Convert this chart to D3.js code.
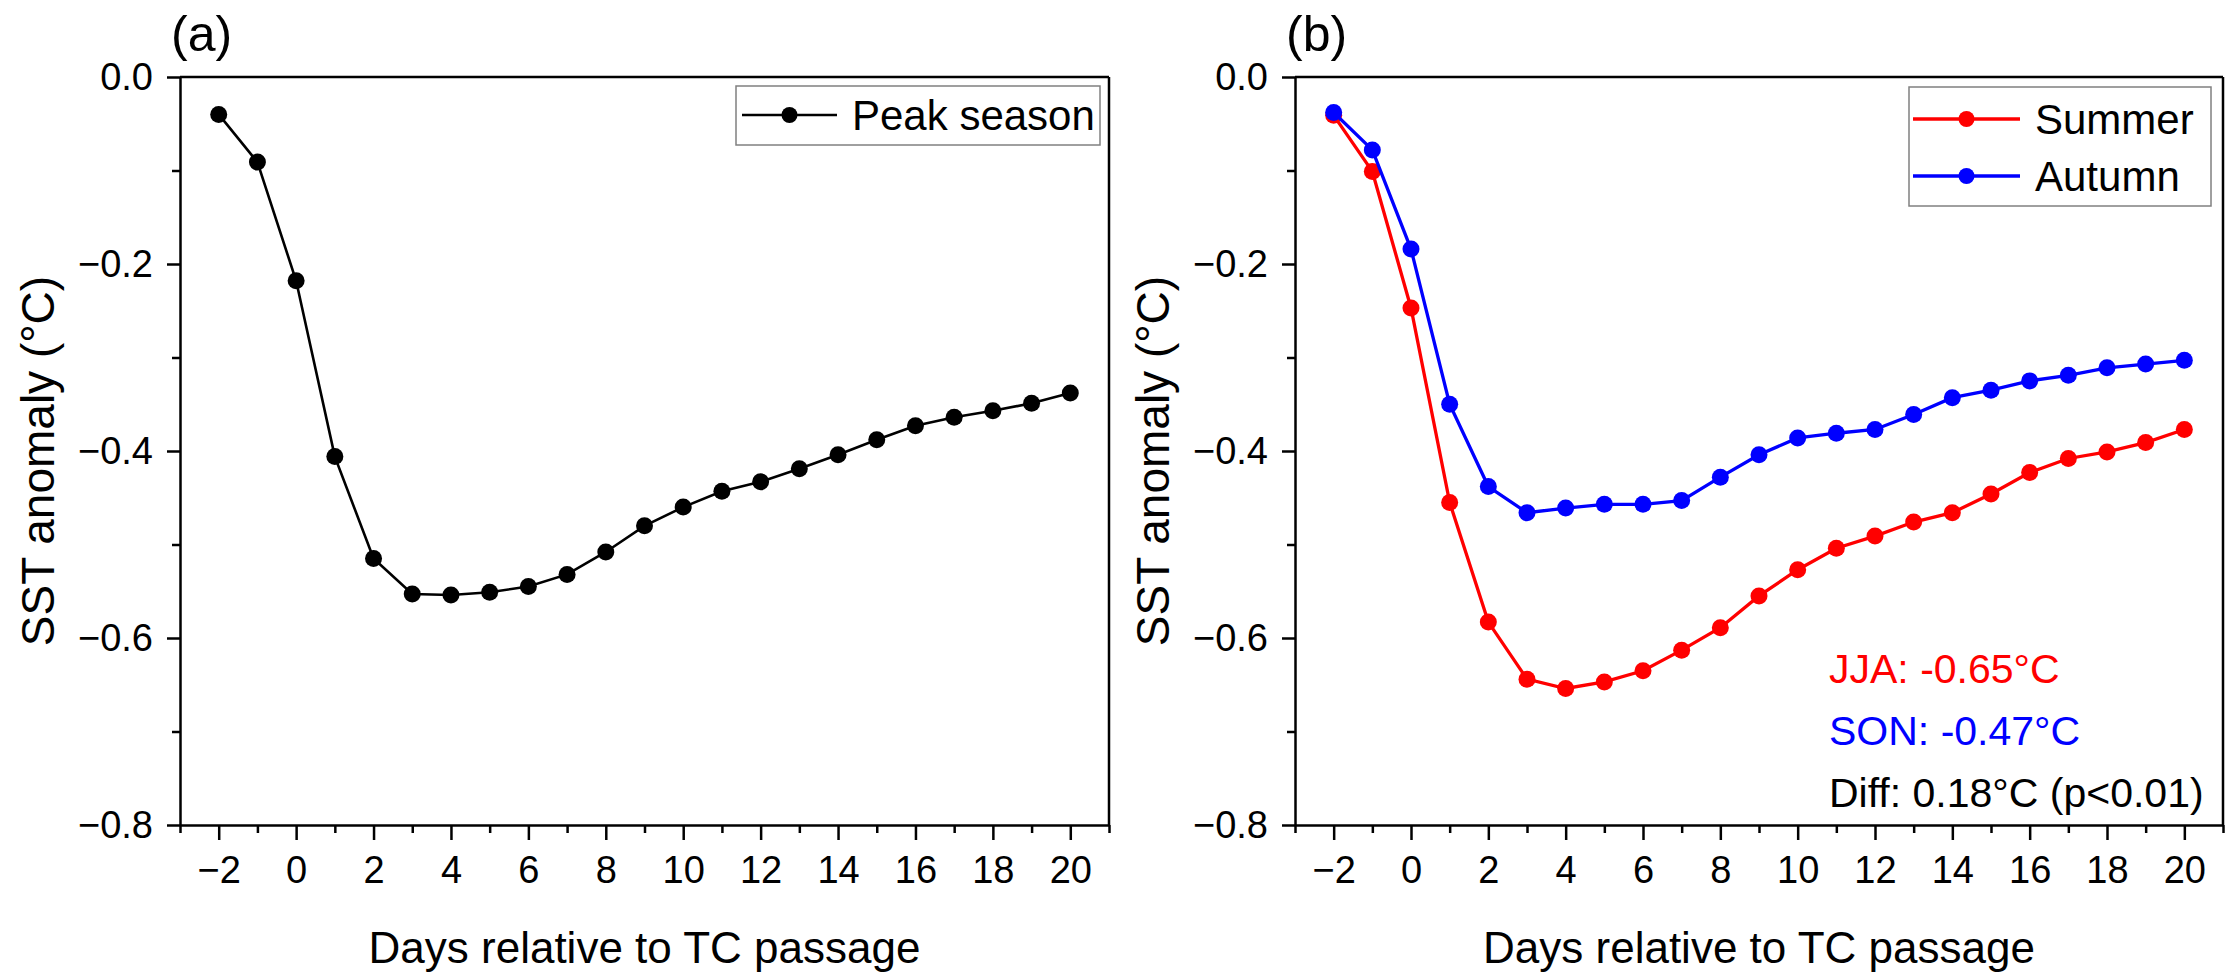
<!DOCTYPE html>
<html>
<head>
<meta charset="utf-8">
<script src="https://cdn.jsdelivr.net/npm/d3@7"></script>
<style>
  body { margin: 0; background: #fff; }
  text { font-family: "Liberation Sans", Arial, sans-serif; }
</style>
</head>
<body>
<svg id="chart" width="2226" height="973"></svg>
<script>
// days relative to TC passage
const days = [-2, -1, 0, 1, 2, 3, 4, 5, 6, 7, 8, 9, 10, 11, 12, 13, 14, 15, 16, 17, 18, 19, 20]

// SST anomaly (°C)
const peakSeason = [-0.040, -0.091, -0.218, -0.406, -0.515, -0.553, -0.554, -0.551, -0.545, -0.532, -0.508, -0.480,
  -0.460, -0.443, -0.433, -0.419, -0.404, -0.388, -0.373, -0.364, -0.357, -0.349, -0.338]
const summer = [-0.041, -0.101, -0.247, -0.455, -0.583, -0.644, -0.654, -0.647, -0.635, -0.613, -0.589, -0.555,
  -0.527, -0.504, -0.491, -0.476, -0.466, -0.446, -0.423, -0.408, -0.401, -0.391, -0.377]
const autumn = [-0.038, -0.078, -0.184, -0.350, -0.438, -0.466, -0.461, -0.457, -0.457, -0.453, -0.428, -0.404,
  -0.386, -0.381, -0.377, -0.361, -0.343, -0.335, -0.325, -0.319, -0.311, -0.307, -0.303]

const xTicks = [-2, 0, 2, 4, 6, 8, 10, 12, 14, 16, 18, 20]
const xMinorTicks = [-3, -1, 1, 3, 5, 7, 9, 11, 13, 15, 17, 19, 21]
const yTicks = [0, -0.2, -0.4, -0.6, -0.8]
const yMinorTicks = [-0.1, -0.3, -0.5, -0.7]

const annotations = [
  { text: 'JJA: -0.65°C', color: '#ff0000' },
  { text: 'SON: -0.47°C', color: '#0000ff' },
  { text: 'Diff: 0.18°C (p<0.01)', color: '#000000' }
]

const svg = d3.select('#chart')
const axisWidth = 2.5

function styleAxis(sel) {
  sel.selectAll('path.domain').attr('stroke', '#000').attr('stroke-width', axisWidth)
  sel.selectAll('.tick line').attr('stroke', '#000').attr('stroke-width', axisWidth)
  sel.selectAll('.tick text').attr('fill', '#000').style('font-size', '38px')
}

function drawPanel(opts) {
  const x = d3.scaleLinear().domain([-3, 21]).range([opts.left, opts.right])
  const y = d3.scaleLinear().domain([-0.8, 0]).range([opts.bottom, opts.top])
  const g = svg.append('g').attr('class', 'panel')

  // minor ticks
  g.append('g')
    .attr('transform', `translate(0, ${ opts.bottom })`)
    .call(d3.axisBottom(x).tickValues(xMinorTicks).tickSize(8).tickFormat(''))
    .call(styleAxis)
    .select('path.domain').remove()
  g.append('g')
    .attr('transform', `translate(${ opts.left }, 0)`)
    .call(d3.axisLeft(y).tickValues(yMinorTicks).tickSize(8).tickFormat(''))
    .call(styleAxis)
    .select('path.domain').remove()

  // major axes
  g.append('g')
    .attr('transform', `translate(0, ${ opts.bottom })`)
    .call(d3.axisBottom(x).tickValues(xTicks).tickSize(15).tickSizeOuter(0).tickPadding(16).tickFormat(d3.format('d')))
    .call(styleAxis)
  g.append('g')
    .attr('transform', `translate(${ opts.left }, 0)`)
    .call(d3.axisLeft(y).tickValues(yTicks).tickSize(13).tickSizeOuter(0).tickPadding(14).tickFormat(d3.format('.1f')))
    .call(styleAxis)

  // top and right frame
  g.append('line')
    .attr('x1', opts.left).attr('x2', opts.right).attr('y1', opts.top).attr('y2', opts.top)
    .attr('stroke', '#000').attr('stroke-width', axisWidth)
  g.append('line')
    .attr('x1', opts.right).attr('x2', opts.right).attr('y1', opts.top).attr('y2', opts.bottom)
    .attr('stroke', '#000').attr('stroke-width', axisWidth)

  // axis titles
  g.append('text')
    .attr('x', (opts.left + opts.right) / 2)
    .attr('y', 963)
    .attr('text-anchor', 'middle')
    .style('font-size', '44px')
    .text('Days relative to TC passage')
  g.append('text')
    .attr('transform', `translate(${ opts.left - 126 }, ${ (opts.top + opts.bottom) / 2 + 10 }) rotate(-90)`)
    .attr('text-anchor', 'middle')
    .style('font-size', '46px')
    .text('SST anomaly (°C)')

  // panel label
  g.append('text')
    .attr('x', opts.left - 9)
    .attr('y', 51)
    .style('font-size', '50px')
    .text(opts.label)

  const line = d3.line().x((d, i) => x(days[i])).y(d => y(d))

  opts.series.forEach(s => {
    g.append('path')
      .datum(s.values)
      .attr('fill', 'none')
      .attr('stroke', s.color)
      .attr('stroke-width', s.width)
      .attr('d', line)
    g.append('g').selectAll('circle')
      .data(s.values)
      .enter()
      .append('circle')
      .attr('cx', (d, i) => x(days[i]))
      .attr('cy', d => y(d))
      .attr('r', 8.5)
      .attr('fill', s.color)
  })

  // legend
  const lg = g.append('g').attr('transform', `translate(${ opts.legend.x }, ${ opts.legend.y })`)
  lg.append('rect')
    .attr('width', opts.legend.w)
    .attr('height', opts.legend.h)
    .attr('fill', '#fff')
    .attr('stroke', '#808080')
    .attr('stroke-width', 1.5)
  opts.series.forEach((s, i) => {
    const cy = opts.legend.rowY + i * 57
    lg.append('line')
      .attr('x1', opts.legend.lineX).attr('x2', opts.legend.lineX + opts.legend.lineLen)
      .attr('y1', cy).attr('y2', cy)
      .attr('stroke', s.color).attr('stroke-width', s.width)
    lg.append('circle')
      .attr('cx', opts.legend.lineX + opts.legend.lineLen / 2)
      .attr('cy', cy)
      .attr('r', 8)
      .attr('fill', s.color)
    lg.append('text')
      .attr('x', opts.legend.lineX + opts.legend.lineLen + 15)
      .attr('y', cy + 15)
      .style('font-size', '42px')
      .text(s.name)
  })

  return { g, x, y }
}

drawPanel({
  left: 180, right: 1109, top: 77, bottom: 825, label: '(a)',
  series: [{ name: 'Peak season', values: peakSeason, color: '#000000', width: 2.6 }],
  legend: { x: 736, y: 86, w: 364, h: 59, rowY: 29, lineX: 6, lineLen: 95 }
})

const b = drawPanel({
  left: 1295, right: 2223, top: 77, bottom: 825, label: '(b)',
  series: [
    { name: 'Summer', values: summer, color: '#ff0000', width: 3.3 },
    { name: 'Autumn', values: autumn, color: '#0000ff', width: 3.3 }
  ],
  legend: { x: 1909, y: 87, w: 302, h: 119, rowY: 32, lineX: 4, lineLen: 107 }
})

b.g.selectAll('text.note')
  .data(annotations)
  .enter()
  .append('text')
  .attr('class', 'note')
  .attr('x', 1829)
  .attr('y', (d, i) => 683 + i * 62)
  .attr('fill', d => d.color)
  .style('font-size', '41px')
  .text(d => d.text)
</script>
</body>
</html>
